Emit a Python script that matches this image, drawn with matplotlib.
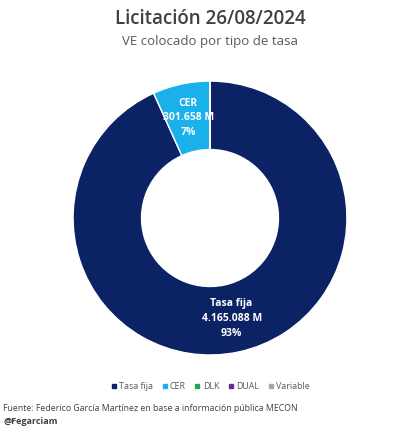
import numpy as np
import matplotlib
matplotlib.use("Agg")
import matplotlib.pyplot as plt
from matplotlib.lines import Line2D

plt.rcParams['font.family'] = ['Open Sans', 'DejaVu Sans']

# datos de la licitacion
tipos = ['Tasa fija', 'CER', 'DLK', 'DUAL', 'Variable']
montos = [4165088, 301658, 0, 0, 0]   # millones
montos_txt = ['4.165.088 M', '301.658 M', '', '', '']
porcentajes = ['93%', '7%', '', '', '']
colores = ['#0b2265', '#1ab0ea', '#19a854', '#6a2c91', '#a6a6a6']

fig = plt.figure(figsize=(4.2, 4.28), dpi=100)
fig.patch.set_facecolor('white')

ax = fig.add_axes([0.174, 0.1706, 0.652, 0.640])
wedges, _ = ax.pie(montos, colors=colores, startangle=90, counterclock=False,
                   radius=1, wedgeprops=dict(width=0.5, edgecolor='white', linewidth=1))
ax.set_xlim(-1, 1)
ax.set_ylim(-1, 1)
ax.set_aspect('auto')

# etiquetas dentro del anillo
for w, t, m, p in zip(wedges, tipos, montos_txt, porcentajes):
    if not m:
        continue
    ang = np.deg2rad((w.theta1 + w.theta2) / 2)
    ax.text(0.75 * np.cos(ang), 0.75 * np.sin(ang), f"{t}\n{m}\n{p}",
            ha='center', va='center', color='white', fontsize=7.5,
            fontweight='bold', linespacing=1.45)

fig.text(0.5, 0.955, 'Licitación 26/08/2024', ha='center', va='center',
         fontsize=13.5, color='#404040', fontweight='semibold')
fig.text(0.5, 0.902, 'VE colocado por tipo de tasa', ha='center', va='center',
         fontsize=9.5, color='#595959')

handles = [Line2D([], [], marker='s', linestyle='', markersize=3.5, color=c) for c in colores]
fig.legend(handles, tipos, loc='center', bbox_to_anchor=(0.5, 0.096), ncol=5,
           frameon=False, fontsize=6.4, labelcolor='#595959', handletextpad=0.2,
           columnspacing=0.9, handlelength=0.8)

fig.text(0.008, 0.046, 'Fuente: Federico García Martínez en base a información pública MECON',
         ha='left', va='center', fontsize=6.3, color='#404040')
fig.text(0.008, 0.016, '@Fegarciam', ha='left', va='center', fontsize=6.5,
         color='#404040', fontweight='bold')

fig.savefig('out.png', dpi=100, facecolor='white')
